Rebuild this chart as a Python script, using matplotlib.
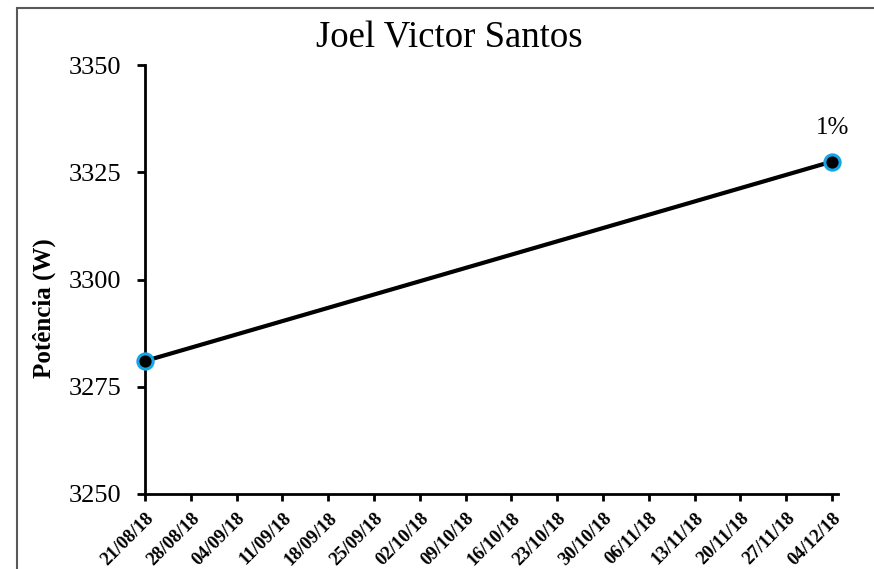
import numpy as np
import pandas as pd
import matplotlib
matplotlib.use('Agg')
import matplotlib.pyplot as plt
import matplotlib.dates as mdates
from matplotlib.patches import Rectangle

plt.rcParams['font.family'] = ['Liberation Serif', 'DejaVu Serif']

# data
datas = pd.to_datetime(['2018-08-21', '2018-12-04'])
potencia = [3281.0, 3327.5]
rotulos = ['', '1%']
ticks = pd.date_range('2018-08-21', '2018-12-04', freq='7D')

fig = plt.figure(figsize=(8.74, 5.69), dpi=100)
ax = fig.add_axes([145/874, 1-494/569, (838-145)/874, (494-65)/569])

ax.plot(datas, potencia, color='black', lw=3, marker='o', ms=11,
        mfc='black', mec='#14A6E6', mew=2.2, zorder=3, clip_on=False)
for x, y, t in zip(datas, potencia, rotulos):
    if t:
        ax.annotate(t, (x, y), xytext=(0, 16), textcoords='offset points',
                    ha='center', va='bottom', fontsize=18)

ax.set_ylim(3250, 3350)
ax.set_yticks([3250, 3275, 3300, 3325, 3350])
ax.set_xlim(datas[0], datas[0] + pd.Timedelta(days=105.9))
ax.set_xticks(ticks)
ax.xaxis.set_major_formatter(mdates.DateFormatter('%d/%m/%y'))
for lab in ax.get_xticklabels():
    lab.set_rotation(45)
    lab.set_ha('right')
    lab.set_rotation_mode('anchor')
    lab.set_fontweight('bold')
    lab.set_fontsize(13.5)
for lab in ax.get_yticklabels():
    lab.set_fontsize(19)

ax.spines['top'].set_visible(False)
ax.spines['right'].set_visible(False)
ax.spines['left'].set_linewidth(2)
ax.spines['bottom'].set_linewidth(2)
ax.tick_params(axis='y', direction='out', length=6, width=2, color='black', pad=11)
ax.tick_params(axis='x', direction='out', length=5, width=2, color='black', pad=6)

ax.set_ylabel('Potência (W)', fontsize=18, fontweight='bold')
ax.yaxis.set_label_coords((56 - 145) / 693, 0.434)
fig.text(449/874, 1 - 48/569, 'Joel Victor Santos', fontsize=26.5,
         ha='center', va='baseline')

# moldura da figura
fig.patches.append(Rectangle((17/874, -0.05), 1.1, 1.05 - 8/569,
                             transform=fig.transFigure, fill=False,
                             edgecolor='#595959', lw=1.5))

fig.savefig('out.png', dpi=100)
